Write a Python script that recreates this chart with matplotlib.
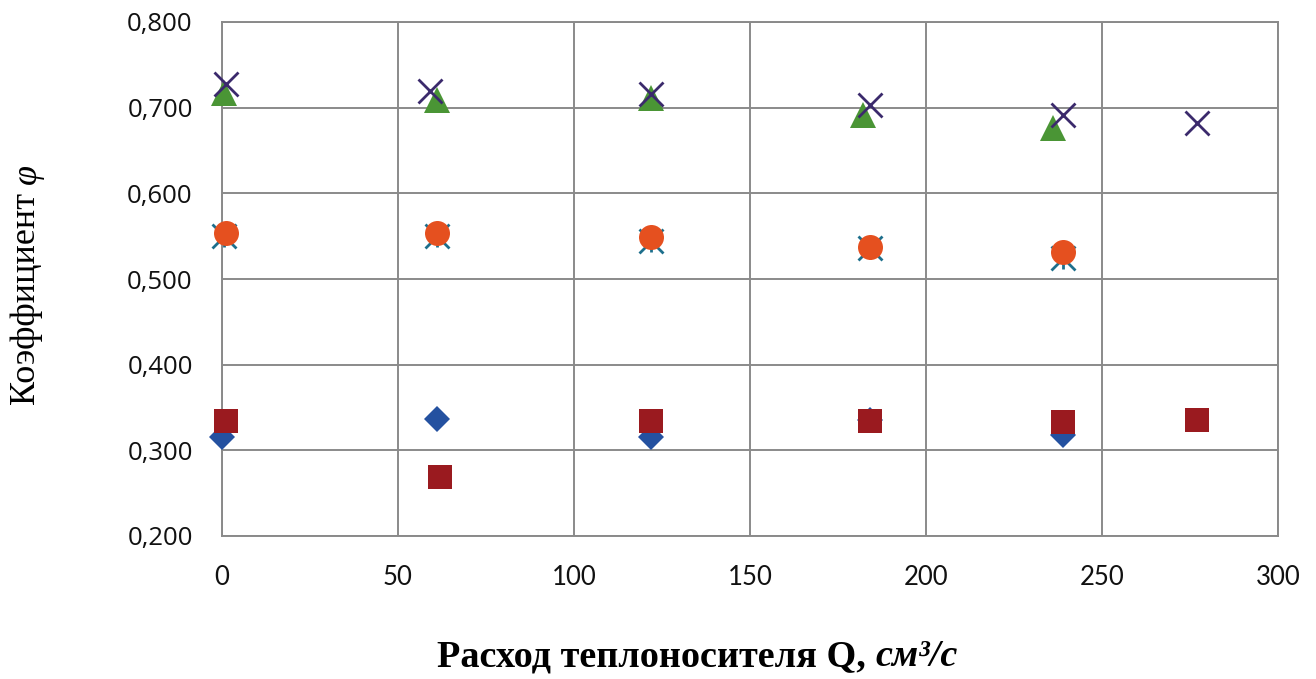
import matplotlib
matplotlib.use("Agg")
import matplotlib.pyplot as plt
from matplotlib.ticker import FuncFormatter, MultipleLocator

# расход теплоносителя Q, см3/с и коэффициент φ по сериям
q_diamond = [0, 61, 122, 184, 239]
phi_diamond = [0.315, 0.337, 0.315, 0.335, 0.318]

q_square = [1, 62, 122, 184, 239, 277]
phi_square = [0.334, 0.269, 0.334, 0.334, 0.333, 0.335]

q_triangle = [0.5, 61, 122, 182, 236]
phi_triangle = [0.717, 0.709, 0.711, 0.691, 0.676]

q_cross = [1, 59, 122, 184, 239, 277]
phi_cross = [0.728, 0.719, 0.716, 0.703, 0.691, 0.682]

q_star = [0.5, 61, 122, 184, 239]
phi_star = [0.550, 0.550, 0.544, 0.536, 0.524]

q_circle = [1, 61, 122, 184, 239]
phi_circle = [0.554, 0.554, 0.549, 0.537, 0.532]

x_ticks = [0, 50, 100, 150, 200, 250, 300]

W, H = 1316, 679
fig = plt.figure(figsize=(W / 100, H / 100), dpi=100)
ax = fig.add_axes([222 / W, 1 - 536 / H, (1278 - 222) / W, (536 - 22) / H])

kw = dict(linestyle="none", clip_on=False)
ax.plot(q_diamond, phi_diamond, "D", ms=13.5, color="#2451a0", mew=0, zorder=3, **kw)
ax.plot(q_square, phi_square, "s", ms=17, color="#9a1a1f", mew=0, zorder=4, **kw)
ax.plot(q_triangle, phi_triangle, "^", ms=19, color="#4a9535", mew=0, zorder=5, **kw)
ax.plot(q_cross, phi_cross, "x", ms=17, color="#3b2a6c", mew=2, zorder=6, **kw)
# звёздочка: крест плюс вертикальная черта
ax.plot(q_star, phi_star, "x", ms=17, color="#1d6f8c", mew=2, zorder=7, **kw)
ax.plot(q_star, phi_star, "|", ms=16, color="#1d6f8c", mew=2, zorder=7, **kw)
ax.plot(q_circle, phi_circle, "o", ms=18, color="#e5501f", mew=0, zorder=8, **kw)

ax.set_xlim(0, 300)
ax.set_ylim(0.2, 0.8)
ax.set_xticks(x_ticks)
ax.yaxis.set_major_locator(MultipleLocator(0.1))
ax.yaxis.set_major_formatter(FuncFormatter(lambda v, p: f"{v:.3f}".replace(".", ",")))

ax.grid(True, color="#8a8a8a", lw=1.4)
ax.set_axisbelow(True)
for s in ax.spines.values():
    s.set_color("#8a8a8a")
    s.set_linewidth(1.4)
ax.tick_params(length=0)
ax.tick_params(axis="y", labelsize=18.5, pad=21, labelcolor="#111111")
ax.tick_params(axis="x", labelsize=18.5, pad=21, labelcolor="#111111")
for t in ax.get_yticklabels():
    t.set_family(["Open Sans", "DejaVu Sans"])
for t in ax.get_xticklabels():
    t.set_family(["Lato", "DejaVu Sans"])

renderer = fig.canvas.get_renderer()

# подпись оси X: полужирный текст и курсивная размерность
t1 = fig.text(437 / W, 1 - 657 / H, "Расход теплоносителя Q, ", family="Liberation Serif",
              weight="bold", fontsize=27.5, ha="left", va="center")
bb = t1.get_window_extent(renderer)
fig.text(bb.x1 / W, 1 - 657 / H, "см³/с", family="Liberation Serif", weight="bold",
         style="italic", fontsize=27.5, ha="left", va="center")

# подпись оси Y
t2 = fig.text(27 / W, 1 - 405 / H, "Коэффициент ", family="Liberation Serif",
              fontsize=26, rotation=90, ha="center", va="bottom")
bb = t2.get_window_extent(renderer)
fig.text(27 / W, bb.y1 / H, "φ", family="Liberation Serif", style="italic",
         fontsize=26, rotation=90, ha="center", va="bottom")

fig.savefig("out.png", dpi=100)
